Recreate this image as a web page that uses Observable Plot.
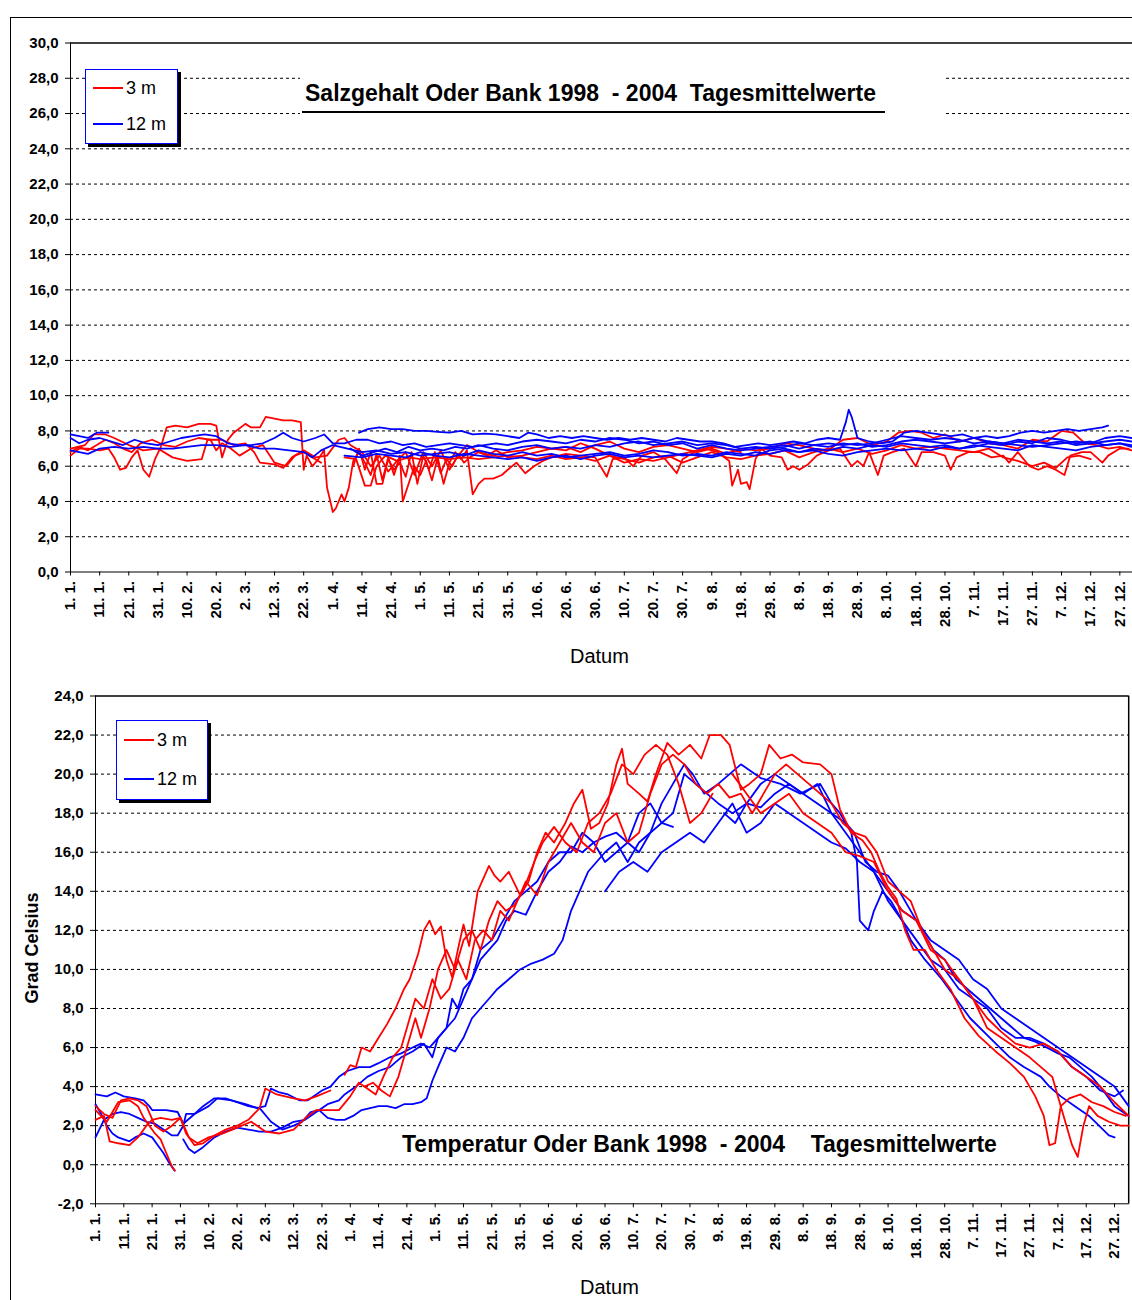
<!DOCTYPE html>
<html><head><meta charset="utf-8">
<script src="https://cdn.jsdelivr.net/npm/d3@7"></script>
<script src="https://cdn.jsdelivr.net/npm/@observablehq/plot@0.6"></script>
<style>
html,body{margin:0;padding:0;background:#fff;overflow:hidden;}
#wrap{position:relative;width:1132px;height:1300px;font-family:"Liberation Sans",Arial,sans-serif;}
#frame{position:absolute;left:10px;top:17px;width:1200px;height:1400px;border-left:1px solid #000;border-top:1px solid #000;}
.abs{position:absolute;}
.legend{position:absolute;background:#fff;border:1px solid #0000ff;box-shadow:3px 3px 0 #000;}
.legend .row{position:absolute;left:7px;height:20px;display:flex;align-items:center;font-size:18px;color:#000;}
.legend .sw{width:30px;height:2px;margin-right:3px;}
.title{position:absolute;font-weight:bold;font-size:23px;line-height:26px;white-space:pre;color:#000;}
.axlab{position:absolute;font-size:20px;color:#000;}
</style></head>
<body><div id="wrap"><div id="frame"></div></div>
<script>
// ---------- tick labels ----------
const xTickDays = d3.range(0, 361, 10);
const xTickLabels = ["1. 1.","11. 1.","21. 1.","31. 1.","10. 2.","20. 2.","2. 3.","12. 3.","22. 3.","1. 4.","11. 4.","21. 4.","1. 5.","11. 5.","21. 5.","31. 5.","10. 6.","20. 6.","30. 6.","10. 7.","20. 7.","30. 7.","9. 8.","19. 8.","29. 8.","8. 9.","18. 9.","28. 9.","8. 10.","18. 10.","28. 10.","7. 11.","17. 11.","27. 11.","7. 12.","17. 12.","27. 12."];
const salTicks = [0,2,4,6,8,10,12,14,16,18,20,22,24,26,28,30];
const tempTicks = [-2,0,2,4,6,8,10,12,14,16,18,20,22,24];

// ---------- Salzgehalt, 3 m (red) : [day of year, value] ----------
const sal3m_a = [[0,6.6],[3,7.0],[6,7.0],[10,6.9],[13,7.0],[15,6.5],[17,5.8],[19,5.9],[21,6.5],[23,6.9],[25,5.8],[27,5.4],[29,6.4],[31,7.1],[33,8.2],[36,8.3],[40,8.2],[44,8.4],[48,8.4],[50,8.3],[52,6.5],[54,7.5],[56,7.9],[60,8.4],[62,8.2],[65,8.2],[67,8.8],[70,8.7],[73,8.6],[76,8.6],[79,8.5],[80,5.8],[81,6.6],[83,6.0],[85,6.4],[87,6.9],[88,4.8],[90,3.4],[91,3.6],[93,4.4],[94,4.0],[95.5,4.8],[97,6.3],[99,6.8],[101,6.2],[103,5.5],[105,6.7],[107,5.2],[109,6.5],[111,5.5],[113,6.6],[114,4.0],[116,5.0],[118,6.0],[120,5.5],[122,6.3],[124,5.2],[126,6.5],[128,5.0],[130,6.2],[132,6.8],[134,6.4],[136,6.9],[138,4.4],[140,5.0],[142,5.3],[145,5.3],[148,5.5],[150,5.8],[153,6.2],[156,5.6],[159,6.0],[162,6.3],[165,6.5],[170,6.7],[175,6.6],[180,6.5],[184,5.4],[186,6.4],[190,6.5],[193,6.0],[196,6.6],[200,6.8],[204,6.4],[208,5.6],[210,6.4],[214,6.8],[218,7.0],[222,6.8],[226,6.3],[227,4.9],[229,5.8],[230,5.0],[232,5.1],[233,4.7],[235,6.4],[237,7.0],[240,6.6],[244,6.5],[246,5.8],[248,6.0],[250,5.8],[253,6.1],[256,6.6],[260,6.9],[264,7.0],[268,6.0],[270,6.3],[272,6.0],[274,6.8],[277,5.5],[279,6.6],[282,6.8],[286,7.0],[290,6.0],[292,6.8],[296,6.8],[300,6.6],[302,5.8],[304,6.5],[308,6.8],[312,6.8],[316,6.5],[320,6.6],[322,6.2],[325,6.8],[329,6.0],[332,5.8],[335,6.0],[338,5.8],[341,5.5],[343,6.6],[347,6.8],[350,6.8],[354,6.2],[356,6.6],[360,7.0],[363,7.0]];
const sal3m_b = [[0,7.0],[5,7.2],[8,7.8],[12,7.8],[15,7.6],[20,7.2],[25,6.9],[30,7.0],[35,6.5],[40,6.3],[45,6.4],[47,7.5],[52,7.5],[56,7.2],[60,7.3],[63,6.8],[65,6.2],[70,6.1],[73,5.9],[76,6.5],[80,6.9],[84,6.5],[88,6.6],[92,7.5],[94,7.6],[96,7.2],[100,6.8],[103,6.0],[106,6.6],[109,5.7],[112,6.3],[115,6.8],[118,5.5],[121,6.8],[124,6.0],[127,6.9],[130,5.8],[133,6.6],[136,7.2],[140,6.8],[145,6.6],[150,6.8],[155,6.9],[160,7.1],[165,7.0],[170,7.1],[175,6.8],[180,7.2],[185,7.4],[190,7.0],[195,6.8],[200,7.1],[205,7.2],[210,7.0],[215,6.8],[220,7.0],[225,6.7],[230,7.0],[235,6.9],[240,7.0],[245,7.3],[250,7.2],[255,7.0],[260,6.9],[265,7.5],[270,7.6],[275,7.2],[280,7.4],[284,7.9],[288,8.0],[292,7.9],[296,7.6],[300,7.8],[305,7.4],[310,7.6],[315,7.3],[320,7.2],[325,7.0],[330,7.5],[335,7.4],[340,8.0],[344,7.9],[348,7.3],[352,7.2],[356,7.0],[360,7.1],[364,6.9]];
const sal3m_c = [[97,6.0],[99,7.0],[101,5.8],[103,6.8],[105,5.0],[107,5.0],[109,6.4],[111,5.8],[113,6.2],[115,5.4],[117,6.8],[119,5.0],[121,6.6],[123,5.8],[125,6.8],[127,5.6],[129,6.4],[131,6.0],[133,6.7],[135,6.2],[137,6.5],[140,6.8],[143,6.6],[146,6.9],[150,6.5],[155,6.6],[160,6.8],[165,7.0],[170,6.9],[175,7.3],[180,7.0],[185,6.6],[190,6.4],[195,6.2],[200,6.5],[205,6.6],[210,6.2],[215,6.5],[220,6.8],[225,6.5],[230,6.4],[235,6.6],[240,6.7],[245,6.9],[250,6.5],[255,6.8],[260,7.0],[265,6.8],[270,7.0],[275,6.7],[280,6.9],[285,7.2],[290,7.0],[295,7.1],[300,7.0],[305,6.9],[310,6.8],[315,7.0],[320,6.5],[325,6.3],[330,6.0],[334,6.2],[338,5.9],[342,6.5],[346,6.6],[350,6.4]];
const sal3m_d = [[0,6.8],[3,7.1],[6,6.9],[9,7.2],[12,7.5],[15,7.3],[18,7.0],[21,6.8],[24,7.3],[28,7.5],[32,7.2],[36,7.1],[40,7.4],[44,7.6],[48,7.5],[50,6.9],[52,7.3],[55,7.0],[58,6.6],[62,7.0],[66,7.2],[70,6.2],[74,6.0],[77,6.6],[80,6.8],[83,6.5],[86,6.2]];
const sal3m_e = [[94,6.5],[98,6.4],[101,4.9],[103,4.9],[105,6.0],[108,6.6],[112,6.3],[116,6.5],[120,6.4],[125,6.5],[130,6.4],[135,6.5],[140,6.4],[145,6.5],[150,6.6],[155,6.5],[160,6.4],[165,6.6],[170,6.4],[175,6.5],[180,6.3],[185,6.6],[190,6.2],[195,6.4],[200,6.3],[205,6.5],[210,6.7],[215,6.9],[220,7.1],[225,7.0],[230,6.8]];

// ---------- Salzgehalt, 12 m (blue) ----------
const sal12m_a = [[0,7.8],[3,7.7],[6,7.6],[9,7.9],[13,7.9],[14,null],[99,7.9],[102,8.1],[106,8.2],[110,8.1],[114,8.1],[118,8.0],[122,8.0],[126,7.95],[130,7.9],[134,8.0],[138,7.8],[142,7.85],[146,7.8],[150,7.7],[154,7.6],[157,7.9],[160,7.8],[164,7.6],[168,7.7],[172,7.6],[176,7.7],[180,7.6],[184,7.5],[188,7.6],[192,7.5],[196,7.6],[200,7.5],[204,7.4],[208,7.6],[212,7.5],[216,7.4],[220,7.4],[224,7.3],[228,7.1],[232,7.2],[236,7.3],[240,7.2],[244,7.3],[248,7.4],[252,7.3],[256,7.5],[260,7.6],[264,7.5],[266,8.5],[267,9.2],[268,8.8],[270,7.6],[274,7.4],[278,7.3],[282,7.4],[286,7.9],[290,8.0],[294,7.9],[298,7.8],[302,7.7],[306,7.8],[310,7.6],[314,7.7],[318,7.6],[322,7.7],[326,7.9],[330,8.0],[334,7.9],[338,8.0],[342,8.1],[346,8.0],[350,8.1],[354,8.2],[356,8.3]];
const sal12m_b = [[0,7.6],[3,7.3],[6,7.5],[10,7.6],[14,7.4],[18,7.2],[22,7.5],[26,7.3],[30,7.2],[34,7.4],[38,7.6],[42,7.7],[46,7.8],[50,7.7],[54,7.3],[58,7.2],[62,7.2],[66,7.3],[70,7.6],[73,7.9],[76,7.6],[80,7.4],[84,7.6],[87,7.8],[90,7.3],[94,7.3],[98,7.5],[102,7.5],[106,7.3],[110,7.4],[114,7.2],[118,7.3],[122,7.1],[126,7.2],[130,7.3],[134,7.2],[138,7.1],[142,7.2],[146,7.3],[150,7.2],[155,7.4],[160,7.5],[165,7.4],[170,7.3],[175,7.5],[180,7.4],[185,7.6],[190,7.5],[195,7.3],[200,7.4],[205,7.2],[210,7.3],[215,7.0],[220,7.2],[225,7.0],[230,6.9],[235,7.0],[240,7.1],[245,7.2],[250,7.0],[255,7.2],[260,7.3],[265,7.2],[270,7.3],[275,7.1],[280,7.2],[285,7.4],[290,7.5],[295,7.4],[300,7.3],[305,7.4],[310,7.6],[315,7.4],[320,7.3],[325,7.5],[330,7.4],[335,7.3],[340,7.4],[345,7.2],[350,7.3],[355,7.4],[360,7.5],[364,7.4]];
const sal12m_c = [[0,6.9],[3,6.8],[6,6.7],[10,7.0],[15,7.1],[20,7.0],[25,7.1],[30,7.0],[35,7.0],[40,7.1],[45,7.2],[50,7.2],[55,7.1],[60,7.2],[65,7.0],[70,7.0],[75,6.9],[80,6.8],[83,6.5],[86,6.9],[90,7.2],[95,7.0],[100,6.8],[105,6.9],[110,6.7],[115,6.8],[120,6.6],[125,6.7],[130,6.8],[135,6.6],[140,6.9],[145,6.7],[150,6.6],[155,6.8],[160,6.6],[165,6.7],[170,6.5],[175,6.6],[180,6.7],[185,6.8],[190,6.6],[195,6.7],[200,6.9],[205,6.8],[210,6.6],[215,6.7],[220,6.6],[225,6.8],[230,6.7],[235,6.6],[240,6.9],[245,7.0],[250,6.8],[255,6.9],[260,6.7],[265,6.6],[270,6.8],[275,6.9],[280,7.0],[285,6.9],[290,7.0],[295,6.9],[300,7.1],[305,7.0],[310,7.2],[315,7.1],[320,7.0],[325,6.9],[330,7.2],[335,7.1],[340,7.0],[345,6.9],[350,7.1],[355,7.2],[360,7.3],[364,7.2]];
const sal12m_d = [[96,7.0],[100,6.6],[104,6.8],[108,7.0],[112,6.8],[116,7.1],[120,6.9],[124,7.0],[128,6.9],[132,7.1],[136,7.0],[140,7.2],[145,7.0],[150,6.9],[155,7.1],[160,7.2],[165,7.0],[170,7.1],[175,7.0],[180,7.2],[185,7.1],[190,7.3],[195,7.4],[200,7.2],[205,7.3],[210,7.4],[215,7.2],[220,7.3],[225,7.2],[230,7.0],[235,7.1],[240,7.0],[245,7.1],[250,7.3],[255,7.2],[260,7.1],[265,7.3],[270,7.2],[275,7.3],[280,7.5],[285,7.7],[290,7.6],[295,7.5],[300,7.6],[305,7.5],[310,7.3],[315,7.4],[320,7.3],[325,7.2],[330,7.1],[335,7.2],[340,7.3],[345,7.4],[350,7.3],[355,7.6],[360,7.7],[364,7.6]];
const sal12m_e = [[94,6.6],[100,6.5],[105,6.7],[110,6.6],[115,6.5],[120,6.8],[125,6.6],[130,6.5],[135,6.7],[140,6.6],[145,6.5],[150,6.4],[155,6.5],[160,6.3],[165,6.5],[170,6.6],[175,6.4],[180,6.6],[185,6.7],[190,6.5],[195,6.6],[200,6.5],[205,6.6],[210,6.7],[215,6.6],[220,6.5],[225,6.7],[230,6.6],[235,6.8],[240,6.7],[245,6.9],[250,6.8],[255,7.0],[260,6.9],[265,7.1],[270,7.0],[275,7.2],[280,7.1],[285,7.3],[290,7.2],[295,7.1],[300,7.2],[305,7.0],[310,7.1],[315,7.3],[320,7.2],[325,7.4],[330,7.3],[335,7.6],[340,7.5],[345,7.3],[350,7.4],[355,7.2],[360,7.3],[364,7.1]];

// ---------- Temperatur, 3 m (red) ----------
const temp3m_a = [[0,2.3],[3,2.5],[5,1.2],[8,1.1],[12,1.0],[15,1.4],[18,2.0],[20,2.3],[23,2.4],[27,2.3],[30,2.4],[32,1.6],[35,1.0],[38,1.1],[42,1.5],[46,1.8],[50,2.0],[54,2.3],[58,2.9],[60,3.9],[64,3.6],[70,3.4],[74,3.3],[78,3.5],[83,3.8]];
const temp3m_b = [[0,2.8],[4,2.2],[8,3.2],[12,3.3],[15,3.0],[17,2.4],[19,2.0],[21,1.6],[23,1.3],[25,0.6],[27,-0.1],[28,-0.3]];
const temp3m_c = [[88,4.6],[90,5.1],[92,5.0],[94,6.0],[97,5.8],[100,6.5],[103,7.2],[106,8.0],[109,9.0],[111,9.5],[114,10.8],[116,12.0],[118,12.5],[120,11.8],[122,12.2],[124,10.5],[126,9.6],[128,11.0],[130,12.3],[132,11.2],[135,14.0],[139,15.3],[141,14.8],[143,14.5],[146,15.0],[150,13.8],[153,14.5],[156,16.0],[159,17.0],[162,16.5],[166,17.5],[169,18.5],[172,19.2],[175,17.2],[178,17.5],[181,18.5],[184,20.5],[186,21.3],[188,19.5],[192,19.0],[195,18.6],[198,20.0],[202,21.6],[206,21.0],[210,21.5],[214,20.8],[217,22.0],[221,22.0],[224,21.5],[228,19.2],[231,19.5],[235,20.0],[238,21.5],[242,20.8],[246,21.0],[250,20.6],[256,20.5],[260,20.0],[263,18.2],[267,17.0],[271,16.6],[274,16.0],[277,15.0],[280,14.2],[283,13.6],[286,12.0],[289,11.0],[293,11.0],[297,10.0],[302,9.0],[307,7.5],[312,6.6],[318,5.8],[323,5.2],[328,4.5],[332,3.5],[335,2.5],[337,1.0],[339,1.1],[341,3.0],[344,3.4],[348,3.6],[352,3.2],[356,3.0],[360,2.7],[364,2.5]];
const temp3m_d = [[0,3.0],[3,2.6],[6,2.4],[9,3.3],[12,3.4],[15,3.3],[18,3.0],[21,2.0],[24,1.7],[27,2.0],[30,2.4],[33,1.4],[36,1.1],[40,1.4],[45,1.6],[50,1.9],[55,2.2],[60,1.7],[65,1.6],[70,1.8],[75,2.5],[78,2.8],[82,2.8],[86,2.8],[90,3.5],[93,4.2],[96,3.9],[99,3.6],[102,4.6],[105,5.5],[108,6.0],[110,7.0],[113,8.5],[116,8.0],[119,9.5],[122,8.5],[125,9.0],[128,10.5],[131,9.5],[134,11.5],[137,12.0],[140,11.5],[143,13.0],[146,12.5],[149,13.5],[152,14.5],[156,13.8],[160,15.5],[164,16.5],[168,17.5],[172,16.5],[176,16.0],[180,17.5],[184,18.0],[188,16.5],[192,17.0],[196,19.0],[200,20.5],[204,21.0],[208,20.5],[212,19.5],[216,19.0],[220,19.5],[224,18.8],[228,19.0],[232,18.0],[236,19.0],[240,20.0],[244,20.5],[248,20.0],[252,19.5],[256,19.0],[260,18.5],[264,17.5],[268,17.0],[272,16.8],[276,16.0],[280,14.5],[284,14.0],[288,13.5],[292,12.0],[296,11.0],[300,10.0],[305,9.5],[310,8.5],[315,7.0],[320,6.5],[325,6.0],[330,5.5],[334,5.0],[338,4.5],[341,3.0],[343,2.0],[345,1.0],[347,0.4],[349,2.0],[351,3.0],[354,2.5],[358,2.2],[362,2.0],[365,2.0]];
const temp3m_e = [[95,4.0],[98,4.2],[101,3.8],[104,3.5],[107,4.5],[110,6.0],[113,7.5],[115,6.5],[118,8.0],[121,10.0],[124,11.0],[127,10.0],[130,11.5],[133,12.0],[136,11.0],[139,12.5],[142,13.5],[145,13.0],[148,13.3],[151,14.0],[155,15.5],[158,16.5],[162,17.3],[166,16.5],[170,16.0],[174,17.5],[178,18.0],[182,19.0],[186,20.5],[190,20.0],[194,21.0],[198,21.5],[202,21.0],[206,19.5],[210,17.5],[214,18.0],[218,19.0]];
const temp3m_f = [[225,20.0],[230,19.0],[235,18.0],[240,18.5],[245,19.0],[250,18.0],[255,17.5],[260,17.0],[265,16.0],[270,15.8],[275,15.5],[280,14.0],[285,13.0],[290,12.5],[295,11.0],[300,10.5],[305,9.5],[310,8.5],[315,7.5],[320,6.8],[325,6.2],[330,6.0],[335,6.2],[340,5.8],[345,5.0],[350,4.5],[355,4.0],[360,3.2],[365,2.5]];

// ---------- Temperatur, 12 m (blue) ----------
const temp12m_a = [[0,3.6],[4,3.5],[7,3.7],[10,3.5],[14,3.4],[17,3.3],[19,3.0],[20,2.8],[25,2.8],[29,2.7],[31,2.1],[35,2.6],[40,3.0],[43,3.4],[48,3.3],[53,3.1],[57,2.9],[60,3.0],[62,3.9],[65,3.7],[68,3.6],[72,3.3],[75,3.3],[78,3.6],[80,3.8],[83,4.0],[86,4.5],[89,4.8],[93,5.0],[97,5.0],[100,5.2],[104,5.5],[108,5.7],[112,6.0],[115,6.2],[118,6.0],[121,6.5],[124,7.0],[127,7.5],[130,8.5],[133,9.5],[136,10.5],[139,11.0],[142,11.5],[145,12.5],[148,13.0],[152,12.8],[156,14.0],[160,15.0],[164,15.5],[168,16.3],[172,16.0],[176,16.5],[180,15.5],[184,16.0],[188,16.5],[192,16.0],[196,17.0],[200,18.5],[204,19.5],[208,20.5],[211,20.0],[215,19.0],[220,19.5],[228,20.5],[235,19.8],[242,19.5],[249,19.0],[256,19.5],[260,18.5],[263,18.0],[267,17.0],[269,15.5],[270,12.5],[273,12.0],[275,13.0],[278,14.0],[281,13.5],[285,12.5],[288,11.5],[293,10.5],[299,9.5],[304,8.5],[309,7.5],[316,6.5],[323,5.5],[328,5.0],[334,4.5],[337,4.0],[341,3.5],[346,3.0],[351,2.5],[358,1.5],[360,1.4]];
const temp12m_b = [[0,1.4],[3,2.3],[6,2.6],[9,2.7],[12,2.6],[15,2.4],[18,2.2],[21,2.1],[24,1.8],[27,1.5],[29,1.5],[31,2.0],[32,2.6],[35,2.6],[38,3.0],[42,3.4],[46,3.4],[50,3.2],[54,3.0],[58,2.9],[62,2.2],[66,1.8],[70,2.0],[73,2.2],[76,2.7],[79,2.8],[82,2.4],[85,2.3],[88,2.3],[91,2.5],[94,2.8],[97,2.9],[100,3.0],[103,3.0],[106,2.9],[109,3.1],[112,3.1],[115,3.2],[117,3.4],[119,4.3],[121,5.0],[124,6.0],[127,5.8],[130,6.5],[133,7.5],[136,8.0],[139,8.5],[142,9.0],[146,9.5],[150,10.0],[154,10.3],[158,10.5],[162,10.8],[165,11.5],[168,13.0],[171,14.0],[174,15.0],[177,15.5],[180,16.0],[184,16.5],[188,15.5],[192,16.5],[196,17.0],[200,17.5],[204,18.0],[208,20.0],[212,19.5],[216,19.0],[220,18.5],[225,18.0],[230,18.5],[235,18.3],[240,19.0],[245,19.5],[250,19.0],[255,18.5],[260,18.0],[265,17.5],[268,17.0],[272,15.5],[276,15.0],[280,14.8],[284,14.0],[288,13.0],[292,12.0],[296,11.0],[300,10.5],[304,9.5],[308,9.0],[312,8.5],[316,8.0],[320,7.5],[324,7.0],[328,6.5],[332,6.3],[336,6.0],[340,5.7],[344,5.5],[348,5.0],[352,4.5],[356,3.8],[360,3.0],[365,2.5]];
const temp12m_c = [[0,3.1],[2,2.6],[4,2.0],[6,1.6],[8,1.4],[10,1.3],[12,1.2],[14,1.4],[17,1.6],[20,1.4],[22,1.0],[24,0.6],[26,0.1],[28,-0.3]];
const temp12m_d = [[31,1.3],[33,0.8],[35,0.6],[38,0.9],[42,1.4],[46,1.7],[50,1.9],[54,1.8],[58,1.7],[62,1.7],[66,1.9],[70,2.2],[74,2.3],[78,2.7],[82,3.1],[86,3.3],[88,3.6],[92,4.0],[96,4.5],[100,4.8],[104,5.0],[108,5.5],[112,5.8],[116,6.2],[119,5.5],[121,6.5],[124,7.0],[126,8.5],[128,8.0],[130,9.0],[133,9.5],[136,11.0],[140,11.5],[144,12.5],[148,13.5],[152,14.0],[156,14.5],[160,15.5],[164,16.0],[168,16.0],[172,17.0],[176,16.5],[180,16.8],[184,17.0],[188,16.5],[192,18.0],[196,18.5],[200,17.5],[204,17.3],[210,null],[222,18.0],[226,17.5],[230,18.5],[235,19.5],[240,20.0],[245,19.5],[250,19.0],[255,19.5],[260,18.0],[265,17.0],[270,16.0],[275,15.0],[280,13.5],[285,12.5],[290,11.5],[295,10.5],[300,10.0],[305,9.0],[310,8.5],[315,8.0],[320,7.0],[325,6.5],[330,6.5],[335,6.2],[340,5.8],[345,5.0],[350,4.5],[355,3.8],[360,3.5],[363,3.8]];
const temp12m_e = [[180,14.0],[185,15.0],[190,15.5],[195,15.0],[200,16.0],[205,16.5],[210,17.0],[215,16.5],[220,17.5],[225,18.5],[230,17.0],[235,17.5],[240,18.5],[245,18.0],[250,17.5],[255,17.0],[260,16.5],[265,16.2],[270,15.5],[275,15.0],[280,14.0],[285,13.0],[290,12.5],[295,11.5],[300,11.0],[305,10.5],[310,9.5],[315,9.0],[320,8.0],[325,7.5],[330,7.0],[335,6.5],[340,6.0],[345,5.5],[350,5.0],[355,4.5],[360,4.0],[365,3.0]];

const salSeries = [["3 m","a",sal3m_a],["3 m","b",sal3m_b],["3 m","c",sal3m_c],["3 m","d",sal3m_d],["3 m","e",sal3m_e],
  ["12 m","a",sal12m_a],["12 m","b",sal12m_b],["12 m","c",sal12m_c],["12 m","d",sal12m_d],["12 m","e",sal12m_e]];
const tempSeries = [["12 m","a",temp12m_a],["12 m","b",temp12m_b],["12 m","c",temp12m_c],["12 m","d",temp12m_d],["12 m","e",temp12m_e],
  ["3 m","a",temp3m_a],["3 m","b",temp3m_b],["3 m","c",temp3m_c],["3 m","d",temp3m_d],["3 m","e",temp3m_e],["3 m","f",temp3m_f]];

function toRows(list){
  const rows=[];
  for(const [depth,id,arr] of list) for(const [d,v] of arr) rows.push({depth, key: depth+id, day:d, v});
  return rows;
}
const fmt = d => d.toFixed(1).replace(".", ",");
const colors = {domain:["3 m","12 m"], range:["#ff0000","#0000ff"]};
const baseStyle = {fontFamily:'"Liberation Sans", Arial, sans-serif', fontSize:"15px", fontWeight:"bold", color:"#000", background:"transparent", overflow:"visible"};

function panel({rows, yTicks, yDomain, width, height, mL, mT, mB, mR, xRange, yRange, frameRight}){
  return Plot.plot({
    width, height, marginLeft:mL, marginTop:mT, marginBottom:mB, marginRight:mR,
    style: baseStyle,
    x:{domain:[0,365], range:xRange, ticks:xTickDays, tickFormat:d=>xTickLabels[Math.round(d/10)], tickRotate:-90, tickSize:4, tickPadding:5, line:true, label:null},
    y:{domain:yDomain, range:yRange, ticks:yTicks, tickFormat:fmt, tickSize:5, tickPadding:7, line:true, label:null},
    color: colors,
    marks:[
      Plot.ruleY(yTicks.filter(t=>t>yDomain[0] && t<yDomain[1]), {stroke:"#000", strokeWidth:1, strokeDasharray:"3,3"}),
      Plot.ruleY([yDomain[1]], {stroke:"#000", strokeWidth:1.5}),
      frameRight ? Plot.ruleX([365], {stroke:"#000", strokeWidth:1.5}) : null,
      Plot.line(rows, {x:"day", y:"v", z:"key", stroke:"depth", strokeWidth:1.8})
    ]
  });
}

const wrap = document.getElementById("wrap");

// --- top panel: Salzgehalt
const topPlot = panel({rows: toRows(salSeries), yTicks: salTicks, yDomain:[0,30], width:1132, height:680,
  mL:70, mT:42.5, mB:680-571.5, mR:0, xRange:[70,1133.9], yRange:[571.5,42.5], frameRight:false});
topPlot.style.position="absolute"; topPlot.style.left="0px"; topPlot.style.top="0px";
wrap.appendChild(topPlot);

// --- bottom panel: Temperatur
const botPlot = panel({rows: toRows(tempSeries), yTicks: tempTicks, yDomain:[-2,24], width:1132, height:620,
  mL:95, mT:15.5, mB:620-523.3, mR:1132-1128.2, xRange:[95,1128.2], yRange:[523.3,15.5], frameRight:true});
botPlot.style.position="absolute"; botPlot.style.left="0px"; botPlot.style.top="680px";
wrap.appendChild(botPlot);

// --- annotations (HTML)
function add(html){ const d=document.createElement("div"); d.innerHTML=html; wrap.appendChild(d.firstChild); }
add('<div class="abs" style="left:300px;top:68px;width:645px;height:48px;background:#fff;"></div>');
add('<div class="title" style="left:305px;top:80px;">Salzgehalt Oder Bank 1998  - 2004  Tagesmittelwerte</div>');
add('<div class="abs" style="left:302px;top:111px;width:583px;height:2px;background:#000;"></div>');
add('<div class="title" style="left:402px;top:1131px;">Temperatur Oder Bank 1998  - 2004    Tagesmittelwerte</div>');
add('<div class="axlab" style="left:570px;top:645px;">Datum</div>');
add('<div class="axlab" style="left:580px;top:1276px;">Datum</div>');
add('<div class="abs" style="left:32px;top:948px;font-weight:bold;font-size:18px;transform:translate(-50%,-50%) rotate(-90deg);white-space:nowrap;">Grad Celsius</div>');

function legend(left, top, w, h, y1, y2){
  return `<div class="legend" style="left:${left}px;top:${top}px;width:${w}px;height:${h}px;">
    <div class="row" style="top:${y1}px;"><div class="sw" style="background:#ff0000"></div>3 m</div>
    <div class="row" style="top:${y2}px;"><div class="sw" style="background:#0000ff"></div>12 m</div></div>`;
}
add(legend(85, 69, 91, 73, 8, 44));
add(legend(116, 720, 90, 78, 9, 48));
</script></body></html>
